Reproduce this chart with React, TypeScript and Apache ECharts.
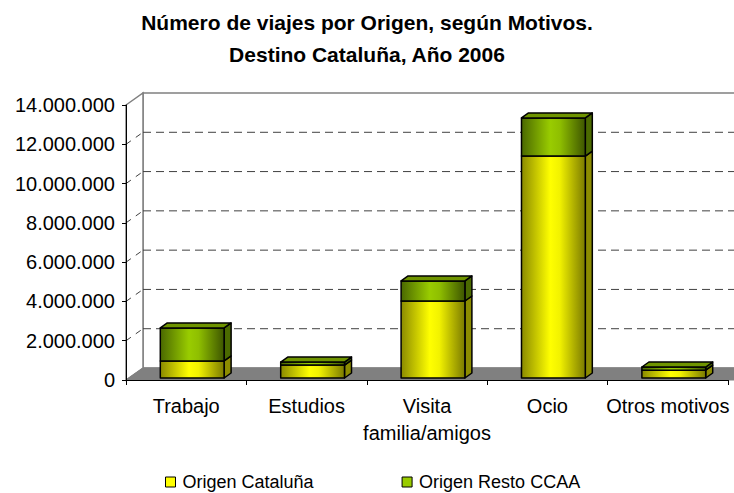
import React, { useEffect, useRef } from "react";
import * as echarts from "echarts";

const categories = ["Trabajo", "Estudios", "Visita\nfamilia/amigos", "Ocio", "Otros motivos"];
const origenCataluna = [870000, 660000, 3920000, 11300000, 400000];
const origenResto = [1680000, 150000, 1020000, 1940000, 160000];
const seriesNames = ["Origen Cataluña", "Origen Resto CCAA"];
const yMax = 14000000;
const yStep = 2000000;

const FONT = "'Liberation Sans', Arial, sans-serif";
const WALL = [17, -12];
const BAR_DEPTH = [7, -5];
const BAR_SHIFT = [6, -2];

const fmt = (v: number) => String(v).replace(/\B(?=(\d{3})+(?!\d))/g, ".");

const yellowFront = () =>
  new echarts.graphic.LinearGradient(0, 0, 1, 0, [
    { offset: 0, color: "#8a8a00" },
    { offset: 0.45, color: "#ffff00" },
    { offset: 0.6, color: "#f2f200" },
    { offset: 1, color: "#7a7a00" },
  ]);
const greenFront = () =>
  new echarts.graphic.LinearGradient(0, 0, 1, 0, [
    { offset: 0, color: "#4a6800" },
    { offset: 0.45, color: "#99cc00" },
    { offset: 0.6, color: "#8fbf00" },
    { offset: 1, color: "#3d5500" },
  ]);

function makeBarRender(colorFront: () => any, sideColor: string, topColor: string | null) {
  return (params: any, api: any) => {
    const x = api.value(0);
    const start = api.value(1);
    const end = api.value(2);
    const p0 = api.coord([x, start]);
    const p1 = api.coord([x, end]);
    const band = api.size([1, 0])[0];
    const w = band * 0.53;
    const cx = p0[0] + BAR_SHIFT[0];
    const yb = p0[1] + BAR_SHIFT[1];
    const yt = p1[1] + BAR_SHIFT[1];
    const l = cx - w / 2;
    const r = cx + w / 2;
    const dx = BAR_DEPTH[0];
    const dy = BAR_DEPTH[1];
    const stroke = { stroke: "#000", lineWidth: 1.5, lineJoin: "round" };
    const children: any[] = [
      {
        type: "polygon",
        shape: { points: [[r, yb], [r + dx, yb + dy], [r + dx, yt + dy], [r, yt]] },
        style: { fill: sideColor, ...stroke },
      },
      {
        type: "rect",
        shape: { x: l, y: yt, width: w, height: yb - yt },
        style: { fill: colorFront(), ...stroke },
      },
    ];
    if (topColor) {
      children.push({
        type: "polygon",
        shape: { points: [[l, yt], [l + dx, yt + dy], [r + dx, yt + dy], [r, yt]] },
        style: { fill: topColor, ...stroke },
      });
    }
    return { type: "group", children };
  };
}

function frameRender(params: any, api: any) {
  const cs = params.coordSys;
  const x0 = cs.x;
  const y0 = cs.y;
  const w = cs.width;
  const h = cs.height;
  const [dx, dy] = WALL;
  const children: any[] = [
    {
      type: "rect",
      shape: { x: x0 + dx, y: y0 + dy, width: w + 40, height: h },
      style: { fill: "#ffffff", stroke: "#808080", lineWidth: 1.5 },
    },
    {
      type: "polygon",
      shape: { points: [[x0, y0], [x0 + dx, y0 + dy], [x0 + dx, y0 + h + dy], [x0, y0 + h]] },
      style: { fill: "#ffffff", stroke: "#808080", lineWidth: 1.5 },
    },
    {
      type: "polygon",
      shape: { points: [[x0, y0 + h], [x0 + dx, y0 + h + dy], [x0 + w + dx + 40, y0 + h + dy], [x0 + w + 40, y0 + h]] },
      style: { fill: "#808080", stroke: "#808080", lineWidth: 1 },
    },
  ];
  for (let v = yStep; v < yMax; v += yStep) {
    const yv = api.coord([0, v])[1];
    children.push({
      type: "line",
      shape: { x1: x0 + dx, y1: yv + dy, x2: x0 + w + dx + 40, y2: yv + dy },
      style: { stroke: "#404040", lineWidth: 1, lineDash: [8, 5] },
    });
    children.push({
      type: "line",
      shape: { x1: x0, y1: yv, x2: x0 + dx, y2: yv + dy },
      style: { stroke: "#404040", lineWidth: 1, lineDash: [6, 6] },
    });
  }
  return { type: "group", children };
}

export default function App() {
  const ref = useRef<HTMLDivElement>(null);
  useEffect(() => {
    if (!ref.current) return;
    const chart = echarts.init(ref.current, undefined, { renderer: "svg" });
    chart.setOption({
      animation: false,
      backgroundColor: "#ffffff",
      textStyle: { fontFamily: FONT },
      title: {
        text: "Número de viajes por Origen, según Motivos.\nDestino Cataluña, Año 2006",
        left: "center",
        top: 6,
        padding: 0,
        textStyle: { fontFamily: FONT, fontSize: 21, fontWeight: "bold", color: "#000", lineHeight: 32, align: "center" },
      },
      legend: {
        data: [
          { name: seriesNames[0], itemStyle: { color: "#ffff00", borderColor: "#000", borderWidth: 1 } },
          { name: seriesNames[1], itemStyle: { color: "#99cc00", borderColor: "#000", borderWidth: 1 } },
        ],
        left: 165,
        top: 473,
        icon: "rect",
        itemWidth: 10,
        itemHeight: 10,
        itemGap: 88,
        padding: 0,
        textStyle: { fontFamily: FONT, fontSize: 18, color: "#000", padding: [0, 0, 0, 2] },
      },
      grid: { left: 126, right: 6, top: 105, bottom: 113 },
      xAxis: {
        type: "category",
        data: categories,
        axisLine: { lineStyle: { color: "#000", width: 1 } },
        axisTick: { show: true, length: 5, lineStyle: { color: "#000" } },
        axisLabel: { fontFamily: FONT, fontSize: 20, color: "#000", margin: 12, lineHeight: 27, interval: 0 },
      },
      yAxis: {
        type: "value",
        min: 0,
        max: yMax,
        interval: yStep,
        axisLine: { show: true, lineStyle: { color: "#000", width: 1 } },
        axisTick: { show: true, length: 4, lineStyle: { color: "#000" } },
        splitLine: { show: false },
        axisLabel: { fontFamily: FONT, fontSize: 20, color: "#000", margin: 11, formatter: (v: number) => fmt(v) },
      },
      series: [
        {
          type: "custom",
          name: "frame",
          z: -1,
          silent: true,
          renderItem: frameRender,
          data: [[0, 0]],
        },
        {
          type: "custom",
          name: seriesNames[0],
          z: 3,
          itemStyle: { color: "#ffff00", borderColor: "#000", borderWidth: 1 },
          renderItem: makeBarRender(yellowFront, "#8c8c00", null),
          data: origenCataluna.map((v, i) => [i, 0, v]),
        },
        {
          type: "custom",
          name: seriesNames[1],
          z: 4,
          itemStyle: { color: "#99cc00", borderColor: "#000", borderWidth: 1 },
          renderItem: makeBarRender(greenFront, "#4b6a00", "#6f9400"),
          data: origenResto.map((v, i) => [i, origenCataluna[i], origenCataluna[i] + v]),
        },
      ],
    });
    return () => chart.dispose();
  }, []);
  return (
    <div
      ref={ref}
      style={{ position: "absolute", left: 0, top: 0, width: 734, height: 493, background: "#fff" }}
    />
  );
}
